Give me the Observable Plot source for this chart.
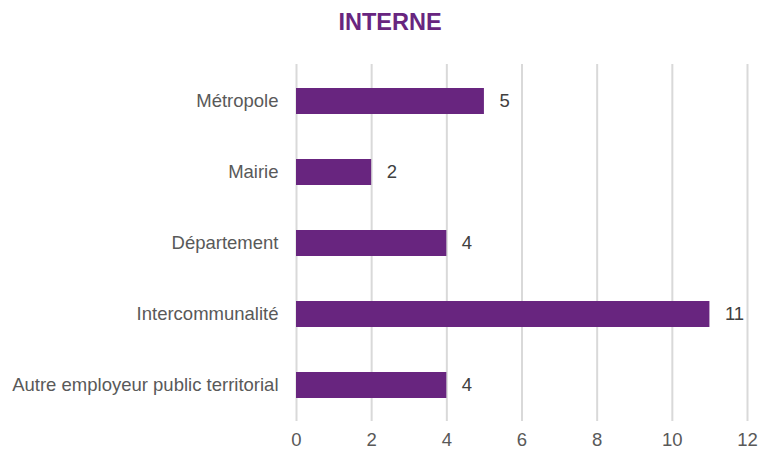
<!DOCTYPE html>
<html>
<head>
<meta charset="utf-8">
<script src="https://cdn.jsdelivr.net/npm/d3@7"></script>
<script src="https://cdn.jsdelivr.net/npm/@observablehq/plot@0.6"></script>
<style>
  body { margin: 0; background: #fff; font-family: "Liberation Sans", Arial, sans-serif; }
  #title { height: 50px; box-sizing: border-box; padding-top: 8px; padding-left: 21px; text-align: center;
           font-size: 23.5px; line-height: 28px; font-weight: bold; color: #68257F; width: 759px; }
</style>
</head>
<body>
<div id="title">INTERNE</div>
<div id="chart"></div>
<script>
const categories = ["Métropole", "Mairie", "Département", "Intercommunalité", "Autre employeur public territorial"];
const values = [5, 2, 4, 11, 4];
const xTicks = [0, 2, 4, 6, 8, 10, 12];

const data = categories.map((c, i) => ({category: c, value: values[i]}));
const purple = "#68257F";

const chart = Plot.plot({
  width: 759,
  height: 402,
  marginLeft: 296,
  marginRight: 12,
  marginTop: 14,
  marginBottom: 31,
  style: { fontFamily: "'Liberation Sans', Arial, sans-serif", fontSize: "18.5px", color: "#595959", background: "#fff" },
  x: { domain: [0, 12], ticks: xTicks, label: null },
  y: { domain: categories, paddingInner: 0.636, paddingOuter: 0.318, label: null },
  marks: [
    Plot.gridX(xTicks, { stroke: "#d9d9d9", strokeOpacity: 1, strokeWidth: 2 }),
    Plot.barX(data, { x: "value", y: "category", fill: purple }),
    Plot.text(data, { x: "value", y: "category", text: d => String(d.value), dx: 15, textAnchor: "start", fill: "#404040", fontSize: 18.5 }),
    Plot.axisX({ ticks: xTicks, tickSize: 0, tickPadding: 11, fill: "#595959", fontSize: 18.5, label: null }),
    Plot.axisY({ tickSize: 0, tickPadding: 18, fill: "#595959", fontSize: 18.5, label: null })
  ]
});
document.getElementById("chart").appendChild(chart);
</script>
</body>
</html>
